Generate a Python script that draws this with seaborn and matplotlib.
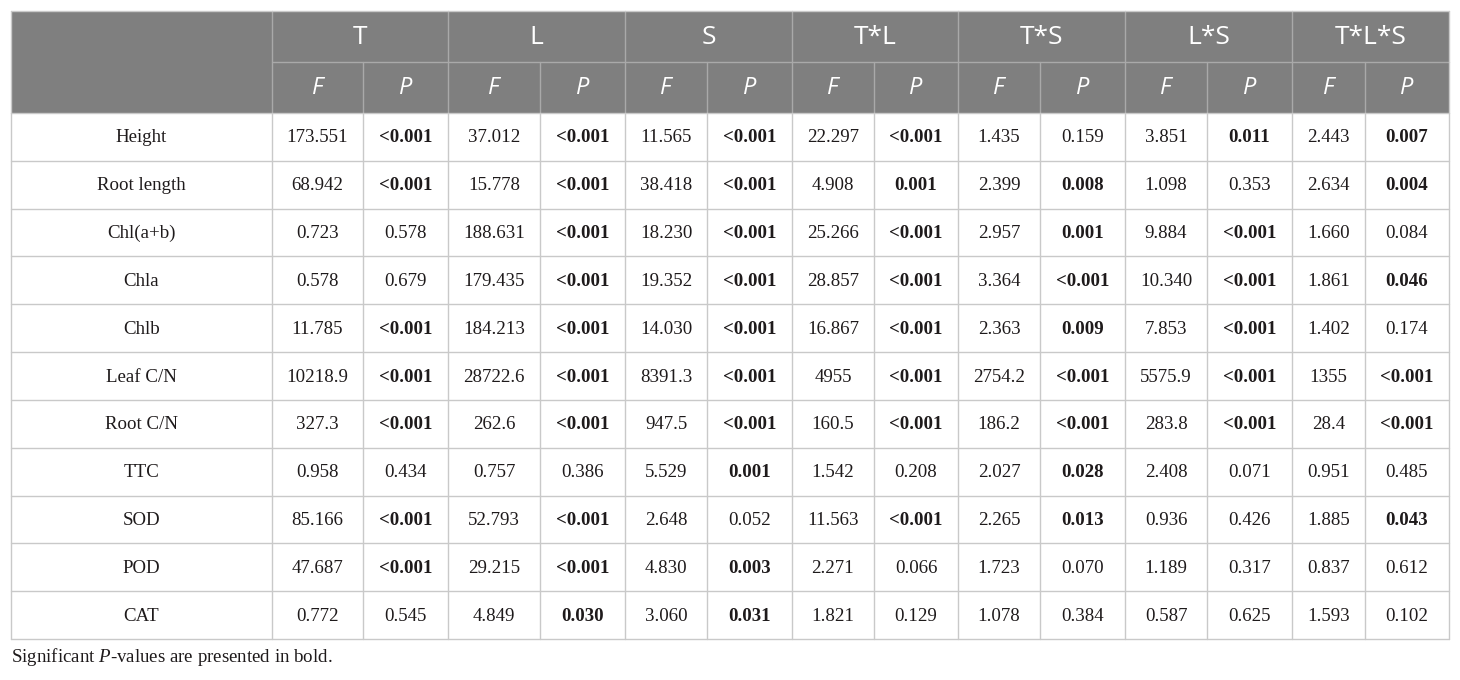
import numpy as np
import pandas as pd
import seaborn as sns
import matplotlib.pyplot as plt
from matplotlib.patches import Rectangle

# ---------------- data ----------------
traits = ["Height", "Root length", "Chl(a+b)", "Chla", "Chlb", "Leaf C/N",
          "Root C/N", "TTC", "SOD", "POD", "CAT"]
effects = ["T", "L", "S", "T*L", "T*S", "L*S", "T*L*S"]

F_T = ["173.551", "68.942", "0.723", "0.578", "11.785", "10218.9", "327.3", "0.958", "85.166", "47.687", "0.772"]
P_T = ["<0.001", "<0.001", "0.578", "0.679", "<0.001", "<0.001", "<0.001", "0.434", "<0.001", "<0.001", "0.545"]
F_L = ["37.012", "15.778", "188.631", "179.435", "184.213", "28722.6", "262.6", "0.757", "52.793", "29.215", "4.849"]
P_L = ["<0.001", "<0.001", "<0.001", "<0.001", "<0.001", "<0.001", "<0.001", "0.386", "<0.001", "<0.001", "0.030"]
F_S = ["11.565", "38.418", "18.230", "19.352", "14.030", "8391.3", "947.5", "5.529", "2.648", "4.830", "3.060"]
P_S = ["<0.001", "<0.001", "<0.001", "<0.001", "<0.001", "<0.001", "<0.001", "0.001", "0.052", "0.003", "0.031"]
F_TL = ["22.297", "4.908", "25.266", "28.857", "16.867", "4955", "160.5", "1.542", "11.563", "2.271", "1.821"]
P_TL = ["<0.001", "0.001", "<0.001", "<0.001", "<0.001", "<0.001", "<0.001", "0.208", "<0.001", "0.066", "0.129"]
F_TS = ["1.435", "2.399", "2.957", "3.364", "2.363", "2754.2", "186.2", "2.027", "2.265", "1.723", "1.078"]
P_TS = ["0.159", "0.008", "0.001", "<0.001", "0.009", "<0.001", "<0.001", "0.028", "0.013", "0.070", "0.384"]
F_LS = ["3.851", "1.098", "9.884", "10.340", "7.853", "5575.9", "283.8", "2.408", "0.936", "1.189", "0.587"]
P_LS = ["0.011", "0.353", "<0.001", "<0.001", "<0.001", "<0.001", "<0.001", "0.071", "0.426", "0.317", "0.625"]
F_TLS = ["2.443", "2.634", "1.660", "1.861", "1.402", "1355", "28.4", "0.951", "1.885", "0.837", "1.593"]
P_TLS = ["0.007", "0.004", "0.084", "0.046", "0.174", "<0.001", "<0.001", "0.485", "0.043", "0.612", "0.102"]

F_cols = [F_T, F_L, F_S, F_TL, F_TS, F_LS, F_TLS]
P_cols = [P_T, P_L, P_S, P_TL, P_TS, P_LS, P_TLS]
caption = "Significant $\\mathit{P}$-values are presented in bold."

# ---------------- style ----------------
sns.set_theme(style="white")
plt.rcParams['font.family'] = ['Liberation Serif', 'DejaVu Serif']
plt.rcParams['mathtext.fontset'] = 'custom'
plt.rcParams['mathtext.rm'] = 'Liberation Serif'
plt.rcParams['mathtext.it'] = 'Liberation Serif:italic'

HEAD_BG = "#7f7f7f"
HEAD_LINE = "#a9a9a9"
GRID = "#c9c9c9"
TXT = "#1e1a1b"
BODY_FS = 13.6
HEAD_FS = 19
SUB_FS = 17

# layout (pixel units)
x_edges = [11, 272, 363, 448, 540, 625, 707, 792, 874, 958, 1040, 1125, 1207, 1292, 1365, 1449]
y_top, y_mid, y_head = 11, 62, 113
y_bot = 639
n = len(traits)
row_h = (y_bot - y_head) / n

fig = plt.figure(figsize=(14.6, 6.8), dpi=100)
ax = fig.add_axes([0, 0, 1, 1])
ax.set_xlim(0, 1460)
ax.set_ylim(680, 0)
ax.axis("off")

# header background
ax.add_patch(Rectangle((x_edges[0], y_top), x_edges[-1] - x_edges[0], y_head - y_top,
                       facecolor=HEAD_BG, edgecolor="none", zorder=1))
# header lines
ax.plot([x_edges[1], x_edges[-1]], [y_mid, y_mid], color=HEAD_LINE, lw=1, zorder=2)
for i, xe in enumerate(x_edges[1:-1], start=1):
    if i % 2 == 1:  # group boundary
        ax.plot([xe, xe], [y_top, y_head], color=HEAD_LINE, lw=1, zorder=2)
    else:  # F/P split
        ax.plot([xe, xe], [y_mid, y_head], color=HEAD_LINE, lw=1, zorder=2)

# header text
for g, eff in enumerate(effects):
    x0, x1, x2 = x_edges[1 + 2 * g], x_edges[2 + 2 * g], x_edges[3 + 2 * g]
    ax.text((x0 + x2) / 2, (y_top + y_mid) / 2 + 1, eff, ha="center", va="center",
            color="white", fontsize=HEAD_FS, family=["Open Sans", "DejaVu Sans"])
    ax.text((x0 + x1) / 2, (y_mid + y_head) / 2 + 1, "F", ha="center", va="center",
            color="white", fontsize=SUB_FS, style="italic", family=["Open Sans", "DejaVu Sans"])
    ax.text((x1 + x2) / 2, (y_mid + y_head) / 2 + 1, "P", ha="center", va="center",
            color="white", fontsize=SUB_FS, style="italic", family=["Open Sans", "DejaVu Sans"])

# body grid
for r in range(n + 1):
    y = y_head + r * row_h
    ax.plot([x_edges[0], x_edges[-1]], [y, y], color=GRID, lw=1, zorder=2)
for xe in x_edges:
    ax.plot([xe, xe], [y_head, y_bot], color=GRID, lw=1, zorder=2)
# outer border of header
ax.plot([x_edges[0], x_edges[-1]], [y_top, y_top], color=GRID, lw=1, zorder=2)
ax.plot([x_edges[0], x_edges[0]], [y_top, y_head], color=GRID, lw=1, zorder=2)
ax.plot([x_edges[-1], x_edges[-1]], [y_top, y_head], color=GRID, lw=1, zorder=2)

# body text
for r, trait in enumerate(traits):
    yc = y_head + (r + 0.5) * row_h + 1
    ax.text((x_edges[0] + x_edges[1]) / 2, yc, trait, ha="center", va="center",
            color=TXT, fontsize=BODY_FS)
    for g in range(len(effects)):
        xF = (x_edges[1 + 2 * g] + x_edges[2 + 2 * g]) / 2
        xP = (x_edges[2 + 2 * g] + x_edges[3 + 2 * g]) / 2
        ax.text(xF, yc, F_cols[g][r], ha="center", va="center", color=TXT, fontsize=BODY_FS)
        p = P_cols[g][r]
        bold = float(p.lstrip("<")) < 0.05
        ax.text(xP, yc, p, ha="center", va="center", color=TXT, fontsize=BODY_FS,
                weight="bold" if bold else "normal")

# caption
ax.text(x_edges[0], 657, caption, ha="left", va="center", color=TXT, fontsize=BODY_FS)

fig.savefig("out.png", dpi=100, facecolor="white")
